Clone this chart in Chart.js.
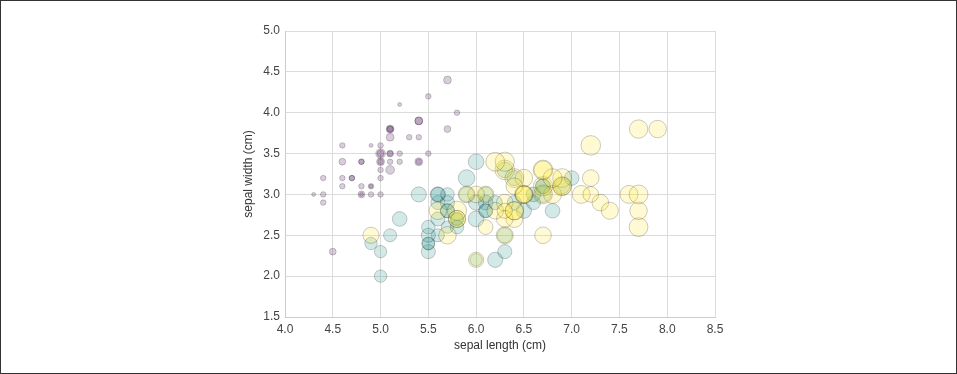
<!DOCTYPE html>
<html>
<head>
<meta charset="utf-8">
<script src="https://cdn.jsdelivr.net/npm/chart.js@4.4.0/dist/chart.umd.min.js"></script>
<style>
  html, body { margin:0; padding:0; background:#fff; }
  #wrap { position:relative; width:957px; height:374px; }
  #frame { position:absolute; left:0; top:0; right:0; bottom:0; border:1px solid #333; pointer-events:none; }
</style>
</head>
<body>
<div id="wrap">
  <canvas id="irisChart" width="957" height="374"></canvas>
  <div id="frame"></div>
</div>
<script>
// iris: sepal length, sepal width, petal width (marker size) per species
const setosaX = [5.1,4.9,4.7,4.6,5.0,5.4,4.6,5.0,4.4,4.9,5.4,4.8,4.8,4.3,5.8,5.7,5.4,5.1,5.7,5.1,5.4,5.1,4.6,5.1,4.8,5.0,5.0,5.2,5.2,4.7,4.8,5.4,5.2,5.5,4.9,5.0,5.5,4.9,4.4,5.1,5.0,4.5,4.4,5.0,5.1,4.8,5.1,4.6,5.3,5.0];
const setosaY = [3.5,3.0,3.2,3.1,3.6,3.9,3.4,3.4,2.9,3.1,3.7,3.4,3.0,3.0,4.0,4.4,3.9,3.5,3.8,3.8,3.4,3.7,3.6,3.3,3.4,3.0,3.4,3.5,3.4,3.2,3.1,3.4,4.1,4.2,3.1,3.2,3.5,3.6,3.0,3.4,3.5,2.3,3.2,3.5,3.8,3.0,3.8,3.2,3.7,3.3];
const setosaW = [0.2,0.2,0.2,0.2,0.2,0.4,0.3,0.2,0.2,0.1,0.2,0.2,0.1,0.1,0.2,0.4,0.4,0.3,0.3,0.3,0.2,0.4,0.2,0.5,0.2,0.2,0.4,0.2,0.2,0.2,0.2,0.4,0.1,0.2,0.2,0.2,0.2,0.1,0.2,0.2,0.3,0.3,0.2,0.6,0.4,0.3,0.2,0.2,0.2,0.2];

const versicolorX = [7.0,6.4,6.9,5.5,6.5,5.7,6.3,4.9,6.6,5.2,5.0,5.9,6.0,6.1,5.6,6.7,5.6,5.8,6.2,5.6,5.9,6.1,6.3,6.1,6.4,6.6,6.8,6.7,6.0,5.7,5.5,5.5,5.8,6.0,5.4,6.0,6.7,6.3,5.6,5.5,5.5,6.1,5.8,5.0,5.6,5.7,5.7,6.2,5.1,5.7];
const versicolorY = [3.2,3.2,3.1,2.3,2.8,2.8,3.3,2.4,2.9,2.7,2.0,3.0,2.2,2.9,2.9,3.1,3.0,2.7,2.2,2.5,3.2,2.8,2.5,2.8,2.9,3.0,2.8,3.0,2.9,2.6,2.4,2.4,2.7,2.7,3.0,3.4,3.1,2.3,3.0,2.5,2.6,3.0,2.6,2.3,2.7,3.0,2.9,2.9,2.5,2.8];
const versicolorW = [1.4,1.5,1.5,1.3,1.5,1.3,1.6,1.0,1.3,1.4,1.0,1.5,1.0,1.4,1.3,1.4,1.5,1.0,1.5,1.1,1.8,1.3,1.5,1.2,1.3,1.4,1.4,1.7,1.5,1.0,1.1,1.0,1.2,1.6,1.5,1.6,1.5,1.3,1.3,1.3,1.2,1.4,1.2,1.0,1.3,1.2,1.3,1.3,1.1,1.3];

const virginicaX = [6.3,5.8,7.1,6.3,6.5,7.6,4.9,7.3,6.7,7.2,6.5,6.4,6.8,5.7,5.8,6.4,6.5,7.7,7.7,6.0,6.9,5.6,7.7,6.3,6.7,7.2,6.2,6.1,6.4,7.2,7.4,7.9,6.4,6.3,6.1,7.7,6.3,6.4,6.0,6.9,6.7,6.9,5.8,6.8,6.7,6.7,6.3,6.5,6.2,5.9];
const virginicaY = [3.3,2.7,3.0,2.9,3.0,3.0,2.5,2.9,2.5,3.6,3.2,2.7,3.0,2.5,2.8,3.2,3.0,3.8,2.6,2.2,3.2,2.8,2.8,2.7,3.3,3.2,2.8,3.0,2.8,3.0,2.8,3.8,2.8,2.8,2.6,3.0,3.4,3.1,3.0,3.1,3.1,3.1,2.7,3.2,3.3,3.0,2.5,3.0,3.4,3.0];
const virginicaW = [2.5,1.9,2.1,1.8,2.2,2.1,1.7,1.8,1.8,2.5,2.0,1.9,2.1,2.0,2.4,2.3,1.8,2.2,2.3,1.5,2.3,2.0,2.0,1.8,2.1,1.8,1.8,1.8,2.1,1.6,1.9,2.0,2.2,1.5,1.4,2.3,2.4,1.8,1.8,2.1,2.4,2.3,1.9,2.3,2.5,2.3,1.9,2.0,2.3,1.8];

const xTicks = [4.0,4.5,5.0,5.5,6.0,6.5,7.0,7.5,8.0,8.5];
const yTicks = [1.5,2.0,2.5,3.0,3.5,4.0,4.5,5.0];

const FONT = '"Liberation Sans", Arial, sans-serif';

// viridis at 0, 0.5, 1 ; black edges at the same alpha
function makeSet(label, xs, ys, ws, rgb, order){
  return {
    label: label,
    data: xs.map((x,i)=>({x:x, y:ys[i]})),
    pointRadius: ws.map(w => 6.2*Math.sqrt(w)),
    pointHoverRadius: ws.map(w => 6.2*Math.sqrt(w)),
    backgroundColor: 'rgba(' + rgb + ',0.2)',
    borderColor: 'rgba(0,0,0,0.2)',
    borderWidth: 1,
    order: order
  };
}

const gridColor = '#dcdcdc';

new Chart(document.getElementById('irisChart').getContext('2d'), {
  type: 'scatter',
  data: {
    datasets: [
      makeSet('setosa', setosaX, setosaY, setosaW, '68,1,84', 3),
      makeSet('versicolor', versicolorX, versicolorY, versicolorW, '33,145,140', 2),
      makeSet('virginica', virginicaX, virginicaY, virginicaW, '253,231,37', 1)
    ]
  },
  options: {
    responsive: false,
    animation: false,
    layout: {padding: {left: 241, right: 242, top: 31, bottom: 21}},
    plugins: {legend: {display: false}, tooltip: {enabled: false}},
    scales: {
      x: {
        type: 'linear', min: 4.0, max: 8.5,
        afterBuildTicks: s => { s.ticks = xTicks.map(v => ({value: v})); },
        afterFit: s => { s.height = 36; },
        grid: {color: gridColor, drawTicks: false},
        border: {color: '#cccccc', width: 1},
        ticks: {padding: 5, color: '#444', font: {family: FONT, size: 12}, callback: v => v.toFixed(1)},
        title: {display: true, text: 'sepal length (cm)', color: '#333', font: {family: FONT, size: 12}, padding: {top: 1, bottom: 0}}
      },
      y: {
        type: 'linear', min: 1.5, max: 5.0,
        afterBuildTicks: s => { s.ticks = yTicks.map(v => ({value: v})); },
        afterFit: s => { s.width = 44; },
        grid: {color: gridColor, drawTicks: false},
        border: {color: '#cccccc', width: 1},
        ticks: {padding: 5, color: '#444', font: {family: FONT, size: 12}, callback: v => v.toFixed(1)},
        title: {display: true, text: 'sepal width (cm)', color: '#333', font: {family: FONT, size: 12}, padding: {top: 0, bottom: 0}}
      }
    }
  }
});
</script>
</body>
</html>
